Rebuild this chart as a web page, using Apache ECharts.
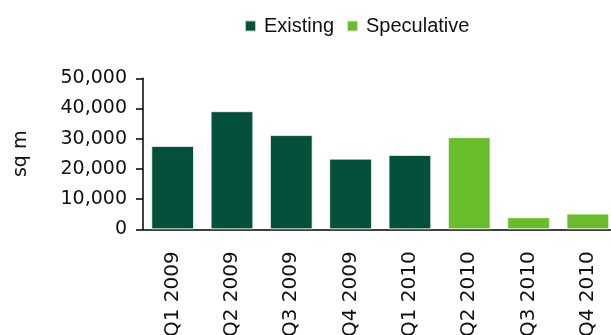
<!DOCTYPE html>
<html>
<head>
<meta charset="utf-8">
<script src="https://cdn.jsdelivr.net/npm/echarts@6/dist/echarts.min.js"></script>
<style>
html,body{margin:0;padding:0;background:#fff;}
#chart{width:611px;height:335px;}
</style>
</head>
<body>
<div id="chart"></div>
<script>
const categories = ['Q1 2009','Q2 2009','Q3 2009','Q4 2009','Q1 2010','Q2 2010','Q3 2010','Q4 2010'];
const existing = [27600, 39100, 31200, 23400, 24600, null, null, null];
const speculative = [null, null, null, null, null, 30500, 4000, 5200];
const yTicks = [0, 10000, 20000, 30000, 40000, 50000];

const axisFont = 'DejaVu Sans';
const chart = echarts.init(document.getElementById('chart'), null, {renderer:'canvas'});
chart.setOption({
  animation: false,
  backgroundColor: '#ffffff',
  legend: {
    left: 244, top: 16, padding: 0,
    itemWidth: 11, itemHeight: 11, itemGap: 12,
    icon: 'rect',
    textStyle: {fontFamily: 'Liberation Sans', fontSize: 20, color: '#111', padding: [0,0,0,3]},
    data: ['Existing','Speculative']
  },
  grid: {left: 143, top: 78.3, bottom: 105.7, right: -6.5, containLabel: false, outerBoundsMode: 'none'},
  xAxis: {
    type: 'category',
    data: categories,
    axisLine: {lineStyle: {color: '#000', width: 1.5}},
    axisTick: {length: 7, lineStyle: {color: '#000', width: 1.5}},
    axisLabel: {rotate: 90, margin: 22, fontFamily: axisFont, fontSize: 20, color: '#111'}
  },
  yAxis: {
    type: 'value',
    min: yTicks[0], max: yTicks[yTicks.length-1], interval: 10000,
    name: 'sq m', nameLocation: 'middle', nameRotate: 90, nameGap: 112,
    nameTextStyle: {fontFamily: axisFont, fontSize: 19, color: '#111'},
    axisLine: {show: true, lineStyle: {color: '#000', width: 1.5}},
    axisTick: {show: true, length: 7, lineStyle: {color: '#000', width: 1.5}},
    splitLine: {show: false},
    axisLabel: {margin: 16, fontFamily: axisFont, fontSize: 19, color: '#111',
      formatter: v => v.toLocaleString('en-US')}
  },
  series: [
    {name: 'Existing', type: 'bar', stack: 's', data: existing, barWidth: '72%',
     itemStyle: {color: '#03513A', borderColor: 'rgba(255,255,255,0.7)', borderWidth: 1}},
    {name: 'Speculative', type: 'bar', stack: 's', data: speculative, barWidth: '72%',
     itemStyle: {color: '#6ABD2A', borderColor: 'rgba(255,255,255,0.7)', borderWidth: 1}}
  ]
});
</script>
</body>
</html>
